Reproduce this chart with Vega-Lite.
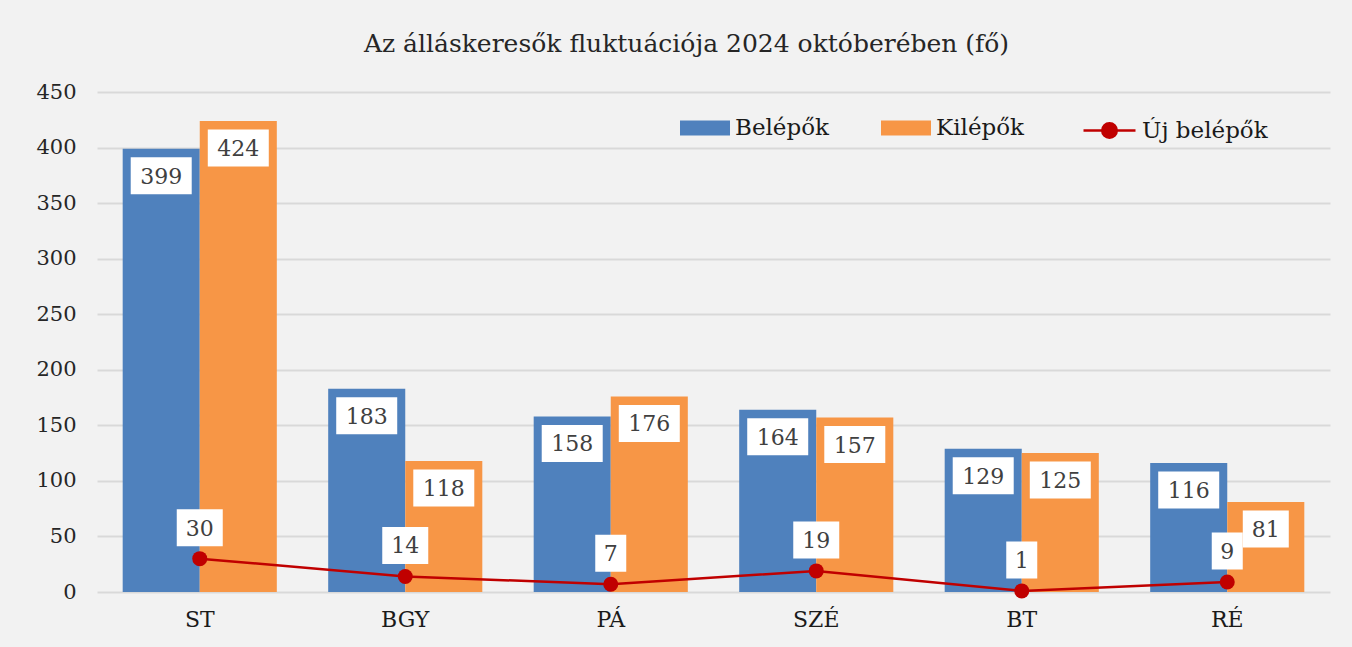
{
  "$schema": "https://vega.github.io/schema/vega-lite/v6.json",
  "width": 1233,
  "height": 500,
  "autosize": "none",
  "padding": {"left": 97, "top": 92, "right": 22, "bottom": 55},
  "background": "#F2F2F2",
  "title": {
    "text": "Az álláskeresők fluktuációja 2024 októberében (fő)",
    "font": "DejaVu Serif",
    "fontSize": 25,
    "fontWeight": "normal",
    "color": "#262626",
    "anchor": "middle",
    "offset": 24,
    "dx": -27
  },
  "config": {
    "view": {"stroke": null},
    "font": "DejaVu Serif"
  },
  "data": {
    "values": [
      {"kat": "ST", "sorozat": "Belépők", "ertek": 399},
      {"kat": "ST", "sorozat": "Kilépők", "ertek": 424},
      {"kat": "ST", "sorozat": "Új belépők", "ertek": 30},
      {"kat": "BGY", "sorozat": "Belépők", "ertek": 183},
      {"kat": "BGY", "sorozat": "Kilépők", "ertek": 118},
      {"kat": "BGY", "sorozat": "Új belépők", "ertek": 14},
      {"kat": "PÁ", "sorozat": "Belépők", "ertek": 158},
      {"kat": "PÁ", "sorozat": "Kilépők", "ertek": 176},
      {"kat": "PÁ", "sorozat": "Új belépők", "ertek": 7},
      {"kat": "SZÉ", "sorozat": "Belépők", "ertek": 164},
      {"kat": "SZÉ", "sorozat": "Kilépők", "ertek": 157},
      {"kat": "SZÉ", "sorozat": "Új belépők", "ertek": 19},
      {"kat": "BT", "sorozat": "Belépők", "ertek": 129},
      {"kat": "BT", "sorozat": "Kilépők", "ertek": 125},
      {"kat": "BT", "sorozat": "Új belépők", "ertek": 1},
      {"kat": "RÉ", "sorozat": "Belépők", "ertek": 116},
      {"kat": "RÉ", "sorozat": "Kilépők", "ertek": 81},
      {"kat": "RÉ", "sorozat": "Új belépők", "ertek": 9}
    ]
  },
  "encoding": {
    "x": {
      "field": "kat",
      "type": "nominal",
      "sort": ["ST", "BGY", "PÁ", "SZÉ", "BT", "RÉ"],
      "scale": {"paddingInner": 0.25, "paddingOuter": 0.125},
      "axis": {
        "title": null,
        "labelAngle": 0,
        "labelFont": "DejaVu Serif",
        "labelFontSize": 22,
        "labelColor": "#1a1a1a",
        "labelPadding": 17,
        "ticks": false,
        "domain": false,
        "grid": false
      }
    },
    "y": {
      "field": "ertek",
      "type": "quantitative",
      "scale": {"domain": [0, 450], "nice": false},
      "axis": {
        "title": null,
        "values": [0, 50, 100, 150, 200, 250, 300, 350, 400, 450],
        "labelFont": "DejaVu Serif",
        "labelFontSize": 21,
        "labelColor": "#262626",
        "labelPadding": 21,
        "ticks": false,
        "domain": false,
        "gridColor": "#D9D9D9",
        "gridWidth": 2
      }
    }
  },
  "layer": [
    {
      "transform": [{"filter": "datum.sorozat !== 'Új belépők'"}],
      "mark": {"type": "bar"},
      "encoding": {
        "xOffset": {"field": "sorozat", "type": "nominal", "sort": ["Belépők", "Kilépők"]},
        "color": {
          "field": "sorozat",
          "type": "nominal",
          "scale": {"domain": ["Belépők", "Kilépők"], "range": ["#4F81BD", "#F79646"]},
          "legend": {
            "title": null,
            "orient": "none",
            "direction": "horizontal",
            "legendX": 583,
            "legendY": 11,
            "symbolType": "M-1,-0.3H1V0.3H-1Z",
            "symbolSize": 2500,
            "symbolStrokeWidth": 0,
            "labelFont": "DejaVu Serif",
            "labelFontSize": 23,
            "labelColor": "#1a1a1a",
            "labelOffset": 5,
            "columnPadding": 52
          }
        }
      }
    },
    {
      "transform": [{"filter": "datum.sorozat === 'Új belépők'"}],
      "mark": {"type": "line", "strokeWidth": 2.5},
      "encoding": {
        "stroke": {
          "field": "sorozat",
          "type": "nominal",
          "scale": {"domain": ["Új belépők"], "range": ["#C00000"]},
          "legend": {
            "title": null,
            "orient": "none",
            "direction": "horizontal",
            "legendX": 985,
            "legendY": 11,
            "symbolType": "M-1,0H1M-0.28,0A0.28,0.28,0,1,0,0.28,0A0.28,0.28,0,1,0,-0.28,0",
            "symbolSize": 2704,
            "labelFont": "DejaVu Serif",
            "labelFontSize": 23,
            "labelColor": "#1a1a1a",
            "labelOffset": 5,
            "encode": {
              "symbols": {
                "update": {
                  "fill": {"value": "#C00000"},
                  "stroke": {"value": "#C00000"},
                  "strokeWidth": {"value": 2.5}
                }
              }
            }
          }
        }
      }
    },
    {
      "transform": [{"filter": "datum.sorozat === 'Új belépők'"}],
      "mark": {"type": "point", "filled": true, "size": 225, "color": "#C00000", "opacity": 1}
    },
    {
      "transform": [{"filter": "datum.sorozat !== 'Új belépők'"}],
      "mark": {
        "type": "rect",
        "fill": "white",
        "height": 37,
        "width": {"expr": "15*length(toString(datum.ertek))+16"},
        "yOffset": 27
      },
      "encoding": {
        "xOffset": {"field": "sorozat", "type": "nominal", "sort": ["Belépők", "Kilépők"]}
      }
    },
    {
      "transform": [{"filter": "datum.sorozat !== 'Új belépők'"}],
      "mark": {
        "type": "text",
        "font": "DejaVu Serif",
        "fontSize": 22,
        "color": "#404040",
        "baseline": "middle",
        "align": "center",
        "yOffset": 28
      },
      "encoding": {
        "xOffset": {"field": "sorozat", "type": "nominal", "sort": ["Belépők", "Kilépők"]},
        "text": {"field": "ertek", "type": "quantitative"}
      }
    },
    {
      "transform": [{"filter": "datum.sorozat === 'Új belépők'"}],
      "mark": {
        "type": "rect",
        "fill": "white",
        "height": 37,
        "width": {"expr": "15*length(toString(datum.ertek))+16"},
        "yOffset": -31
      }
    },
    {
      "transform": [{"filter": "datum.sorozat === 'Új belépők'"}],
      "mark": {
        "type": "text",
        "font": "DejaVu Serif",
        "fontSize": 22,
        "color": "#404040",
        "baseline": "middle",
        "align": "center",
        "yOffset": -30
      },
      "encoding": {
        "text": {"field": "ertek", "type": "quantitative"}
      }
    }
  ]
}
